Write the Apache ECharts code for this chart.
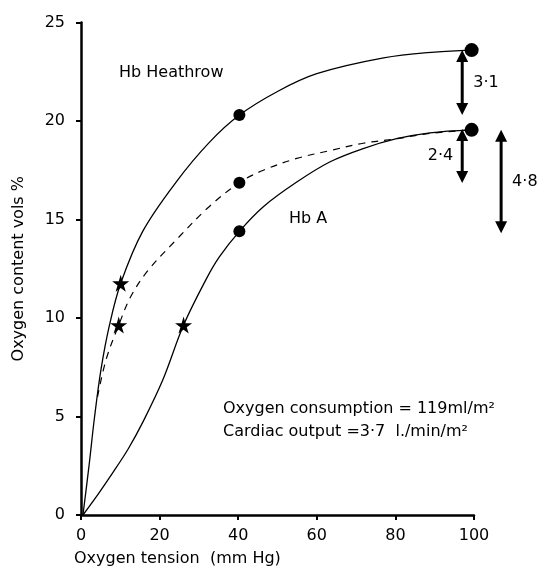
<!DOCTYPE html>
<html><head><meta charset="utf-8">
<script src="https://cdn.jsdelivr.net/npm/echarts@6/dist/echarts.min.js"></script>
<style>html,body{margin:0;padding:0;background:#fff}#c{width:542px;height:570px}</style>
</head><body><div id="c"></div>
<script>
// ---- data ----
const xTicks = [0, 20, 40, 60, 80, 100];
const yTicks = [0, 5, 10, 15, 20, 25];
// Hb Heathrow (solid, upper)
const heathrowCurve = [[0.5,0],[2.1,2.6],[3.4,4.9],[5.1,7.4],[7.2,9.6],[10.1,11.76],[15.7,14.4],[24.2,16.9],[32.6,18.9],[40.3,20.3],[50,21.5],[60,22.4],[77,23.2],[90,23.5],[99.4,23.6]];
// dashed (middle)
const meanCurve = [[4.2,6.0],[6.4,7.9],[9.6,9.64],[12.7,11.1],[17,12.4],[24.2,13.96],[32.6,15.65],[40.3,16.87],[46.4,17.5],[54.9,18.1],[63.4,18.5],[71.8,18.87],[80.3,19.1],[88.8,19.37],[99.4,19.55]];
// Hb A (solid, lower)
const hbACurve = [[0.5,0],[4.5,1.1],[8.1,2.15],[12,3.35],[15.7,4.7],[20.8,6.85],[26.1,9.64],[31.8,11.95],[35.2,13.1],[40.3,14.4],[46.4,15.65],[54.9,16.9],[63.4,17.93],[71.8,18.6],[80.3,19.1],[88.8,19.4],[99.4,19.55]];
const circlePoints = [[40.3,20.3],[40.3,16.87],[40.3,14.4]];
const endPoints = [[99.4,23.6],[99.4,19.55]];
const starPoints = [[10.1,11.76],[9.6,9.64],[26.1,9.64]];
// arrows: [x, yTop, yBottom]
const arrows = [[97,23.6,20.3],[97,19.6,16.85],[106.9,19.55,14.3]];
const arrowLabels = ['3·1', '2·4', '4·8'];
const arrowLabelSide = ['right', 'left', 'right'];

const FONT = 'DejaVu Sans';
const STAR = 'path://M50,0 L61,35 L98,35 L68,57 L79,91 L50,70 L21,91 L32,57 L2,35 L39,35 Z';

const chart = echarts.init(document.getElementById('c'), null, {renderer: 'canvas'});
const curveStyle = {color: '#000', width: 1.3};
chart.setOption({
  backgroundColor: '#fff',
  animation: false,
  grid: {left: 81, right: 68, top: 22.5, bottom: 55, containLabel: false},
  xAxis: {
    type: 'value', min: xTicks[0], max: xTicks[xTicks.length-1], interval: 20,
    axisLine: {lineStyle: {color: '#000', width: 2.5}},
    axisTick: {show: true, length: 5, lineStyle: {color: '#000', width: 2}},
    axisLabel: {color: '#000', fontFamily: FONT, fontSize: 16, margin: 13},
    splitLine: {show: false}
  },
  yAxis: {
    type: 'value', min: yTicks[0], max: yTicks[yTicks.length-1], interval: 5,
    name: 'Oxygen content vols %', nameLocation: 'middle', nameGap: 54, nameRotate: 90,
    nameTextStyle: {color: '#000', fontFamily: FONT, fontSize: 16},
    axisLine: {lineStyle: {color: '#000', width: 2.5}},
    axisTick: {show: true, length: 5, lineStyle: {color: '#000', width: 2}},
    axisLabel: {color: '#000', fontFamily: FONT, fontSize: 16, margin: 16},
    splitLine: {show: false}
  },
  graphic: [
    {type: 'text', left: 74, top: 551, style: {text: 'Oxygen tension  (mm Hg)', fill: '#000', font: '16px "DejaVu Sans"'}},
    {type: 'text', left: 119, top: 65, style: {text: 'Hb Heathrow', fill: '#000', font: '16px "DejaVu Sans"'}},
    {type: 'text', left: 289, top: 211, style: {text: 'Hb A', fill: '#000', font: '16px "DejaVu Sans"'}},
    {type: 'text', left: 223, top: 401, style: {text: 'Oxygen consumption = 119ml/m²', fill: '#000', font: '16px "DejaVu Sans"'}},
    {type: 'text', left: 223, top: 424, style: {text: 'Cardiac output =3·7  l./min/m²', fill: '#000', font: '16px "DejaVu Sans"'}}
  ],
  series: [
    {type: 'line', data: heathrowCurve, smooth: 0.35, showSymbol: false, lineStyle: curveStyle, z: 2},
    {type: 'line', data: meanCurve, smooth: 0.35, showSymbol: false, lineStyle: {color: '#000', width: 1.2, type: [7, 6]}, z: 2},
    {type: 'line', data: hbACurve, smooth: 0.35, showSymbol: false, lineStyle: curveStyle, z: 2},
    {type: 'scatter', data: circlePoints, symbol: 'circle', symbolSize: 12, itemStyle: {color: '#000', opacity: 1}, z: 5},
    {type: 'scatter', data: endPoints, symbol: 'circle', symbolSize: 14, itemStyle: {color: '#000', opacity: 1}, z: 5},
    {type: 'scatter', data: starPoints, symbol: STAR, symbolSize: 17, itemStyle: {color: '#000', opacity: 1}, z: 5},
    {
      type: 'custom', clip: false, z: 6,
      data: arrows,
      renderItem: function (params, api) {
        const x = api.value(0), y1 = api.value(1), y2 = api.value(2);
        const p1 = api.coord([x, y1]), p2 = api.coord([x, y2]);
        const hh = 12, hw = 6;
        const i = params.dataIndex;
        const side = arrowLabelSide[i];
        const midY = (p1[1] + p2[1]) / 2;
        return {
          type: 'group',
          children: [
            {type: 'line', shape: {x1: p1[0], y1: p1[1] + hh - 1, x2: p2[0], y2: p2[1] - hh + 1}, style: {stroke: '#000', lineWidth: 3}},
            {type: 'polygon', shape: {points: [[p1[0], p1[1]], [p1[0] - hw, p1[1] + hh], [p1[0] + hw, p1[1] + hh]]}, style: {fill: '#000'}},
            {type: 'polygon', shape: {points: [[p2[0], p2[1]], [p2[0] - hw, p2[1] - hh], [p2[0] + hw, p2[1] - hh]]}, style: {fill: '#000'}},
            {type: 'text', x: side === 'right' ? p1[0] + 11 : p1[0] - 9, y: midY,
              style: {text: arrowLabels[i], fill: '#000', font: '16px "DejaVu Sans"', align: side === 'right' ? 'left' : 'right', verticalAlign: 'middle'}}
          ]
        };
      }
    }
  ]
});
</script>
</body></html>
